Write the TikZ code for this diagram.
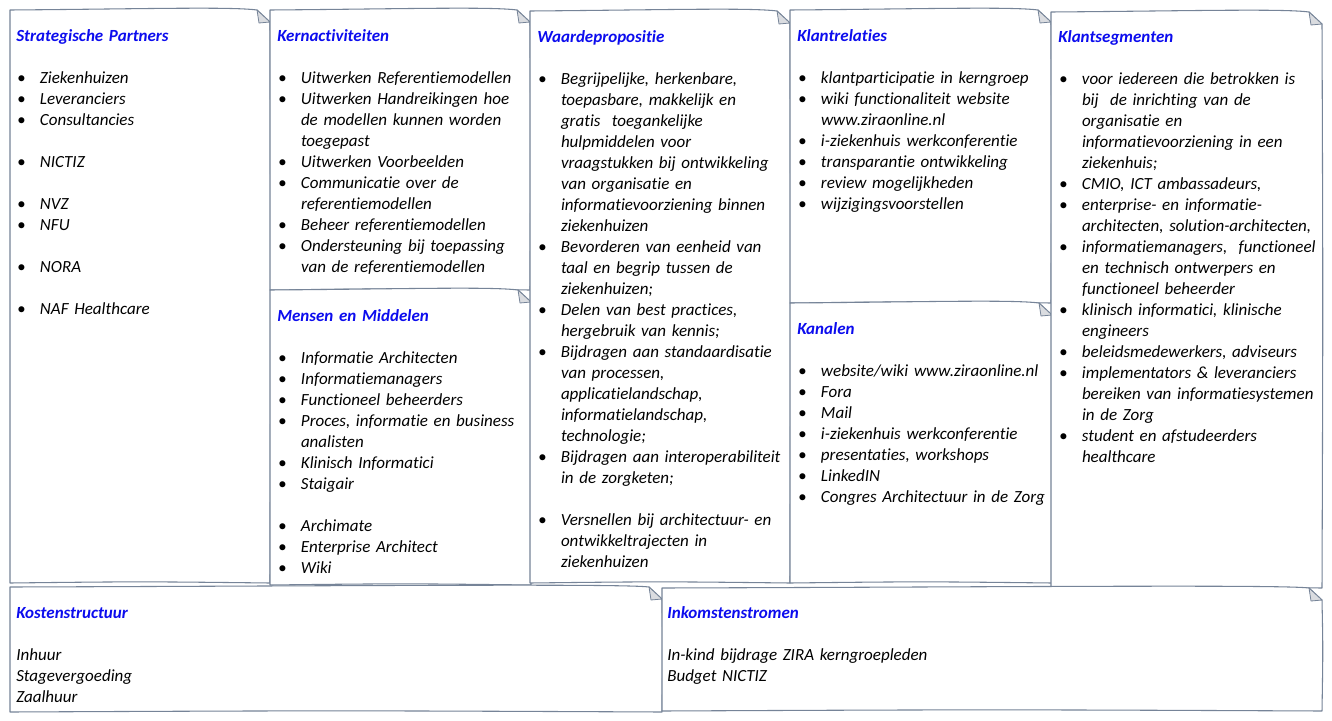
\documentclass[tikz,border=0pt]{standalone}
\usepackage{fontspec}
\setmainfont{Carlito}[Ligatures={NoCommon,NoRare,NoContextual}]
\usetikzlibrary{calc}
\definecolor{cardgray}{RGB}{118,132,152}
\definecolor{foldfill}{RGB}{218,220,224}
\definecolor{headblue}{RGB}{12,12,238}
\newlength\bulind \setlength\bulind{17.8pt}
\newcommand\bi[1]{\par\hangindent=\bulind\hangafter=1\noindent\makebox[\bulind][l]{\hspace{0.6pt}\textbullet}#1\par}
\newcommand\emptyline{\par\noindent\mbox{}\par}
\newcommand\hd[1]{\noindent\strut\textbf{\color{headblue}#1}\par}
\newcommand\card[4]{%
  \filldraw[cardline] (#1,#2) .. controls ({#1+0.5*(#3-#1)},{#2-1}) and ({#3-40},{#2-3.5}) .. ({#3-13},{#2})
    -- (#3,{#2+12}) .. controls ({#3+1},{#2+0.5*(#4-#2)}) .. (#3,#4)
    .. controls ({#1+0.5*(#3-#1)},{#4-1.5}) .. (#1,#4) .. controls ({#1-0.8},{#2+0.5*(#4-#2)}) .. (#1,#2) -- cycle;
  \filldraw[foldstyle] ({#3-13},{#2}) -- ({#3-11},{#2+13}) -- (#3,{#2+12}) -- cycle;
}
\tikzset{
  cardline/.style={draw=cardgray, line width=0.8pt, fill=white, line join=round},
  foldstyle/.style={draw=cardgray, fill=foldfill, line width=0.6pt, line join=round},
  cardtext/.style={anchor=north west, inner sep=0pt, text width=330pt,
    font=\fontsize{12.75}{15.75}\selectfont\itshape},
}
\begin{document}
\begin{tikzpicture}[x=0.75pt,y=-0.75pt]
\useasboundingbox (0,0) rectangle (1332,721);
\fill[white] (0,0) rectangle (1332,721);
% cards
\card{10}{10}{270}{583}
\card{270}{10}{530}{290}
\card{270}{290}{531}{585}
\card{530}{11}{790}{583}
\card{790}{10}{1051}{303}
\card{790}{303}{1052}{583}
\card{1051}{12}{1322}{588}
\card{10}{587}{662}{712}
\card{662}{588}{1322}{711}
% texts
\node[cardtext] (sp) at (16,26.3) {\parindent=0pt
\hd{Strategische Partners}\emptyline
\bi{Ziekenhuizen}\bi{Leveranciers}\bi{Consultancies}\emptyline
\bi{NICTIZ}\emptyline
\bi{NVZ}\bi{NFU}\emptyline
\bi{NORA}\emptyline
\bi{NAF Healthcare}};
\node[cardtext] (ka) at (277,26.3) {\parindent=0pt
\hd{Kernactiviteiten}\emptyline
\bi{Uitwerken Referentiemodellen}
\bi{Uitwerken Handreikingen hoe\newline de modellen kunnen worden\newline toegepast}
\bi{Uitwerken Voorbeelden}
\bi{Communicatie over de\newline referentiemodellen}
\bi{Beheer referentiemodellen}
\bi{Ondersteuning bij toepassing\newline van de referentiemodellen}};
\node[cardtext] (mm) at (277,306.3) {\parindent=0pt
\hd{Mensen en Middelen}\emptyline
\bi{Informatie Architecten}
\bi{Informatiemanagers}
\bi{Functioneel beheerders}
\bi{Proces, informatie en business\newline analisten}
\bi{Klinisch Informatici}
\bi{Staigair}\emptyline
\bi{Archimate}
\bi{Enterprise Architect}
\bi{Wiki}};
\node[cardtext] (wp) at (537,27.3) {\parindent=0pt
\hd{Waardepropositie}\emptyline
\bi{Begrijpelijke, herkenbare,\newline toepasbare, makkelijk en\newline gratis~ toegankelijke\newline hulpmiddelen voor\newline vraagstukken bij ontwikkeling\newline van organisatie en\newline informatievoorziening binnen\newline ziekenhuizen}
\bi{Bevorderen van eenheid van\newline taal en begrip tussen de\newline ziekenhuizen;}
\bi{Delen van best practices,\newline hergebruik van kennis;}
\bi{Bijdragen aan standaardisatie\newline van processen,\newline applicatielandschap,\newline informatielandschap,\newline technologie;}
\bi{Bijdragen aan interoperabiliteit\newline in de zorgketen;}\emptyline
\bi{Versnellen bij architectuur- en\newline ontwikkeltrajecten in\newline ziekenhuizen}};
\node[cardtext] (kr) at (797,26.3) {\parindent=0pt
\hd{Klantrelaties}\emptyline
\bi{klantparticipatie in kerngroep}
\bi{wiki functionaliteit website\newline www.ziraonline.nl}
\bi{i-ziekenhuis werkconferentie}
\bi{transparantie ontwikkeling}
\bi{review mogelijkheden}
\bi{wijzigingsvoorstellen}};
\node[cardtext] (kn) at (797,319.3) {\parindent=0pt
\hd{Kanalen}\emptyline
\bi{website/wiki www.ziraonline.nl}
\bi{Fora}
\bi{Mail}
\bi{i-ziekenhuis werkconferentie}
\bi{presentaties, workshops}
\bi{LinkedIN}
\bi{Congres Architectuur in de Zorg}};
\node[cardtext] (ks) at (1058,27.3) {\parindent=0pt
\hd{Klantsegmenten}\emptyline
\bi{voor iedereen die betrokken is\newline bij~ de inrichting van de\newline organisatie en\newline informatievoorziening in een\newline ziekenhuis;}
\bi{CMIO, ICT ambassadeurs,}
\bi{enterprise- en informatie-\newline architecten, solution-architecten,}
\bi{informatiemanagers,~ functioneel\newline en technisch ontwerpers en\newline functioneel beheerder}
\bi{klinisch informatici, klinische\newline engineers}
\bi{beleidsmedewerkers, adviseurs}
\bi{implementators \& leveranciers\newline bereiken van informatiesystemen\newline in de Zorg}
\bi{student en afstudeerders\newline healthcare}};
\node[cardtext] (ko) at (16,603.3) {\parindent=0pt
\hd{Kostenstructuur}\emptyline
Inhuur\par Stagevergoeding\par Zaalhuur};
\node[cardtext] (in) at (667,603.3) {\parindent=0pt
\hd{Inkomstenstromen}\emptyline
In-kind bijdrage ZIRA kerngroepleden\par Budget NICTIZ};
\end{tikzpicture}
\end{document}
